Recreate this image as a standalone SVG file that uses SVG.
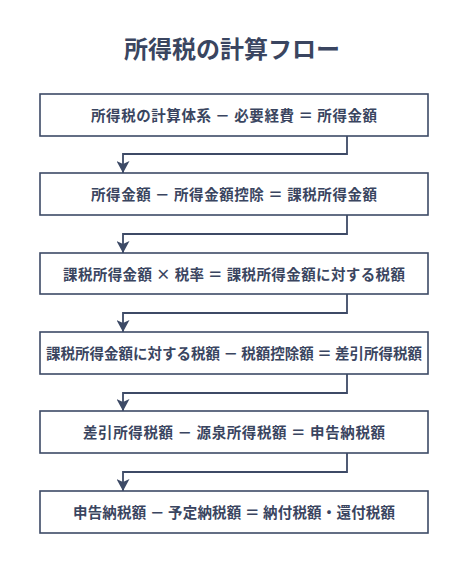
<svg xmlns="http://www.w3.org/2000/svg" width="474" height="586" viewBox="0 0 474 586">
<defs>
<style>
.box{fill:#fff;stroke:#3d4a66;stroke-width:1.6}
.t{font-family:"Noto Sans CJK JP","Noto Sans",sans-serif;font-weight:bold;font-size:14.5px;fill:#3a4560;text-anchor:middle}
.title{font-family:"Noto Sans CJK JP","Noto Sans",sans-serif;font-weight:bold;font-size:24px;fill:#3a4560;text-anchor:middle}
.c{fill:none;stroke:#3d4a66;stroke-width:1.8}
</style>
<marker id="ah2" viewBox="0 0 12 13" refX="12" refY="6.5" markerWidth="12" markerHeight="13" markerUnits="userSpaceOnUse" orient="auto">
<path d="M0,0 L12,6.5 L0,13 L3,6.5 z" fill="#3d4a66"/>
</marker>
</defs>
<rect width="474" height="586" fill="#fff"/>
<text class="title" x="232" y="58">所得税の計算フロー</text>
<g id="connectors">
<path class="c" d="M347,136 V154 H123 V173" marker-end="url(#ah2)"/>
<path class="c" d="M347,215 V234 H123 V253" marker-end="url(#ah2)"/>
<path class="c" d="M347,294 V313 H123 V332" marker-end="url(#ah2)"/>
<path class="c" d="M347,374 V393 H123 V411" marker-end="url(#ah2)"/>
<path class="c" d="M347,453 V472 H123 V491" marker-end="url(#ah2)"/>
</g>
<g id="n1"><rect class="box" x="40" y="94" width="388" height="42"/><text class="t" x="234" y="121" textLength="286" lengthAdjust="spacing">所得税の計算体系 － 必要経費 ＝ 所得金額</text></g>
<g id="n2"><rect class="box" x="40" y="173" width="388" height="42"/><text class="t" x="234" y="200" textLength="286" lengthAdjust="spacing">所得金額 － 所得金額控除 ＝ 課税所得金額</text></g>
<g id="n3"><rect class="box" x="40" y="253" width="388" height="41"/><text class="t" x="234" y="280" textLength="342" lengthAdjust="spacing">課税所得金額 × 税率 ＝ 課税所得金額に対する税額</text></g>
<g id="n4"><rect class="box" x="40" y="332" width="388" height="42"/><text class="t" x="234" y="359" textLength="376" lengthAdjust="spacing">課税所得金額に対する税額 － 税額控除額 ＝ 差引所得税額</text></g>
<g id="n5"><rect class="box" x="40" y="411" width="388" height="42"/><text class="t" x="234" y="438" textLength="302" lengthAdjust="spacing">差引所得税額 － 源泉所得税額 ＝ 申告納税額</text></g>
<g id="n6"><rect class="box" x="40" y="491" width="388" height="42"/><text class="t" x="234" y="518" textLength="322" lengthAdjust="spacing">申告納税額 － 予定納税額 ＝ 納付税額・還付税額</text></g>
</svg>
